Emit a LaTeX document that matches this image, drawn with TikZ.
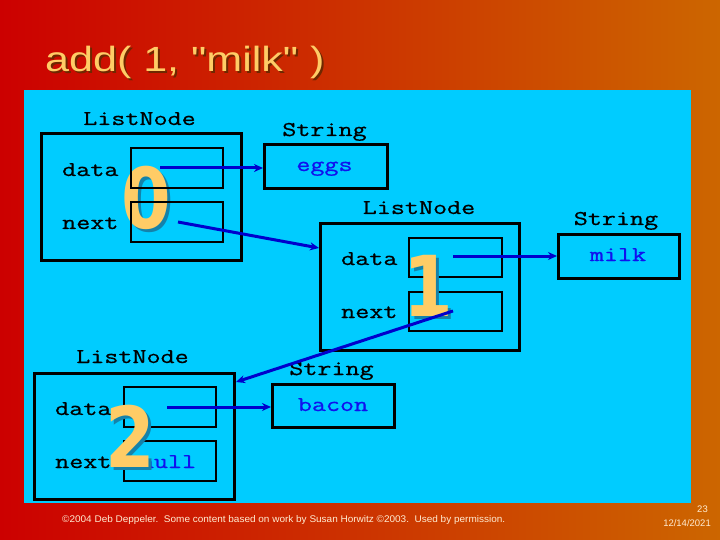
\documentclass[tikz,border=0pt]{standalone}
\usepackage{fontspec}
\usepackage{graphicx}
\usetikzlibrary{calc,arrows.meta}
\newfontfamily\arialf{Liberation Sans}
\newfontfamily\digf{DejaVu Sans}
\newfontfamily\courf{Latin Modern Mono}[FakeBold=0.6]
\definecolor{bgleft}{RGB}{204,0,0}
\definecolor{bgright}{RGB}{204,102,0}
\definecolor{panelcol}{RGB}{0,204,255}
\definecolor{titlecol}{RGB}{255,204,102}
\definecolor{titleshadow}{RGB}{110,40,0}
\definecolor{digshadow}{RGB}{20,130,170}
\definecolor{arrowcol}{RGB}{0,0,204}
\definecolor{valcol}{RGB}{17,17,238}
\definecolor{footcol}{RGB}{255,236,210}
\newcommand\monotxt[1]{\scalebox{1.3}[1]{\courf\fontsize{21}{24}\selectfont #1}}
\newcommand\bigdig[1]{\scalebox{0.85}[1]{\digf\bfseries\fontsize{84}{84}\selectfont #1}}
\tikzset{
  outerbox/.style={draw=black, line width=3pt, anchor=north west, inner sep=0pt},
  field/.style={draw=black, line width=2pt, anchor=north west, inner sep=0pt, minimum width=92pt, minimum height=40pt},
  strbox/.style={draw=black, line width=3pt, anchor=north west, inner sep=0pt},
  lbl/.style={anchor=base, inner sep=0pt, text=black},
  lblw/.style={anchor=base west, inner sep=0pt, text=black},
  val/.style={anchor=base, inner sep=0pt, text=valcol},
  digit/.style={inner sep=0pt, text=titlecol},
  digitsh/.style={inner sep=0pt, text=digshadow},
  ptr/.style={draw=arrowcol, line width=3pt, -{Stealth[length=9pt,width=8pt]}},
  foot/.style={inner sep=0pt, text=footcol}
}
\begin{document}
\begin{tikzpicture}[x=1pt,y=-1pt]
\useasboundingbox (0,0) rectangle (720,540);
\shade[left color=bgleft, right color=bgright] (0,0) rectangle (720,540);
% title
\node[anchor=base west, inner sep=0pt, text=titleshadow] (titlesh) at (47,74) {\arialf\fontsize{35}{40}\selectfont\scalebox{1.23}[1]{add( 1, "milk" )}};
\node[anchor=base west, inner sep=0pt, text=titlecol] (title) at (45,72) {\arialf\fontsize{35}{40}\selectfont\scalebox{1.23}[1]{add( 1, "milk" )}};
% panel
\fill[panelcol] (24,90) rectangle (691,503);

% digit 0 (below boxes)
\node[digitsh] (d0s) at (149,200.5) {\bigdig{0}};
\node[digit] (d0) at (146,197.5) {\bigdig{0}};

% ListNode 0
\node[lbl] (n0lab) at (139.5,125) {\monotxt{ListNode}};
\node[outerbox, minimum width=200pt, minimum height=127pt] (n0box) at (40,132) {};
\node[field] (n0data) at (130,147) {};
\node[field] (n0next) at (130,201) {};
\node[lblw] (n0dl) at (62,176) {\monotxt{data}};
\node[lblw] (n0nl) at (62,229) {\monotxt{next}};

% String eggs
\node[lbl] (s0lab) at (324.5,136) {\monotxt{String}};
\node[strbox, minimum width=123pt, minimum height=44pt] (eggs) at (263,143) {};
\node[val] (eggst) at (324.5,171) {\monotxt{eggs}};

% ListNode 1
\node[lbl] (n1lab) at (419,214) {\monotxt{ListNode}};
\node[outerbox, minimum width=199pt, minimum height=127pt] (n1box) at (319,222) {};
\node[field, minimum width=93pt, minimum height=39pt] (n1data) at (408,237) {};
\node[field, minimum width=93pt, minimum height=39pt] (n1next) at (408,291) {};
\node[lblw] (n1dl) at (341,265) {\monotxt{data}};
\node[lblw] (n1nl) at (341,318) {\monotxt{next}};
\node[digitsh] (d1s) at (431,289) {\bigdig{1}};
\node[digit] (d1) at (428,286) {\bigdig{1}};

% String milk
\node[lbl] (s1lab) at (616,225) {\monotxt{String}};
\node[strbox, minimum width=121pt, minimum height=44pt] (milk) at (557,233) {};
\node[val] (milkt) at (618,261) {\monotxt{milk}};

% ListNode 2
\node[lbl] (n2lab) at (132.5,363) {\monotxt{ListNode}};
\node[outerbox, minimum width=200pt, minimum height=126pt] (n2box) at (33,372) {};
\node[field] (n2data) at (123,386) {};
\node[field] (n2next) at (123,440) {};
\node[lblw] (n2dl) at (55,415) {\monotxt{data}};
\node[lblw] (n2nl) at (55,468) {\monotxt{next}};
\node[val] (nullt) at (168,468) {\monotxt{null}};
\node[digitsh] (d2s) at (133,439) {\bigdig{2}};
\node[digit] (d2) at (130,436) {\bigdig{2}};

% String bacon
\node[lbl] (s2lab) at (331.5,375) {\monotxt{String}};
\node[strbox, minimum width=122pt, minimum height=43pt] (bacon) at (271,383) {};
\node[val] (bacont) at (333,411) {\monotxt{bacon}};

% pointers
\coordinate (p0d) at (160,168);
\coordinate (p0n) at (178,222);
\coordinate (p1d) at (453,256);
\coordinate (p1n) at (453,311);
\coordinate (p2d) at (167,407);
\draw[ptr] (p0d) -- (eggs.west |- p0d);
\draw[ptr] (p0n) -- ($(n1box.north west)!0.2!(n1box.south west)$);
\draw[ptr] (p1d) -- (milk.west |- p1d);
\draw[ptr] (p1n) -- ($(n2box.north east)+(0,10)$);
\draw[ptr] (p2d) -- (bacon.west |- p2d);

% footer
\node[foot, anchor=base west] (credit) at (62,522) {\resizebox{443pt}{7pt}{\arialf ©2004 Deb Deppeler.\ \ Some content based on work by Susan Horwitz ©2003.\ \ Used by permission.}};
\node[foot, anchor=base east] (pagenum) at (708,512) {\arialf\fontsize{9.5}{11}\selectfont 23};
\node[foot, anchor=base east] (datet) at (711,526) {\arialf\fontsize{9.5}{11}\selectfont 12/14/2021};
\end{tikzpicture}
\end{document}
